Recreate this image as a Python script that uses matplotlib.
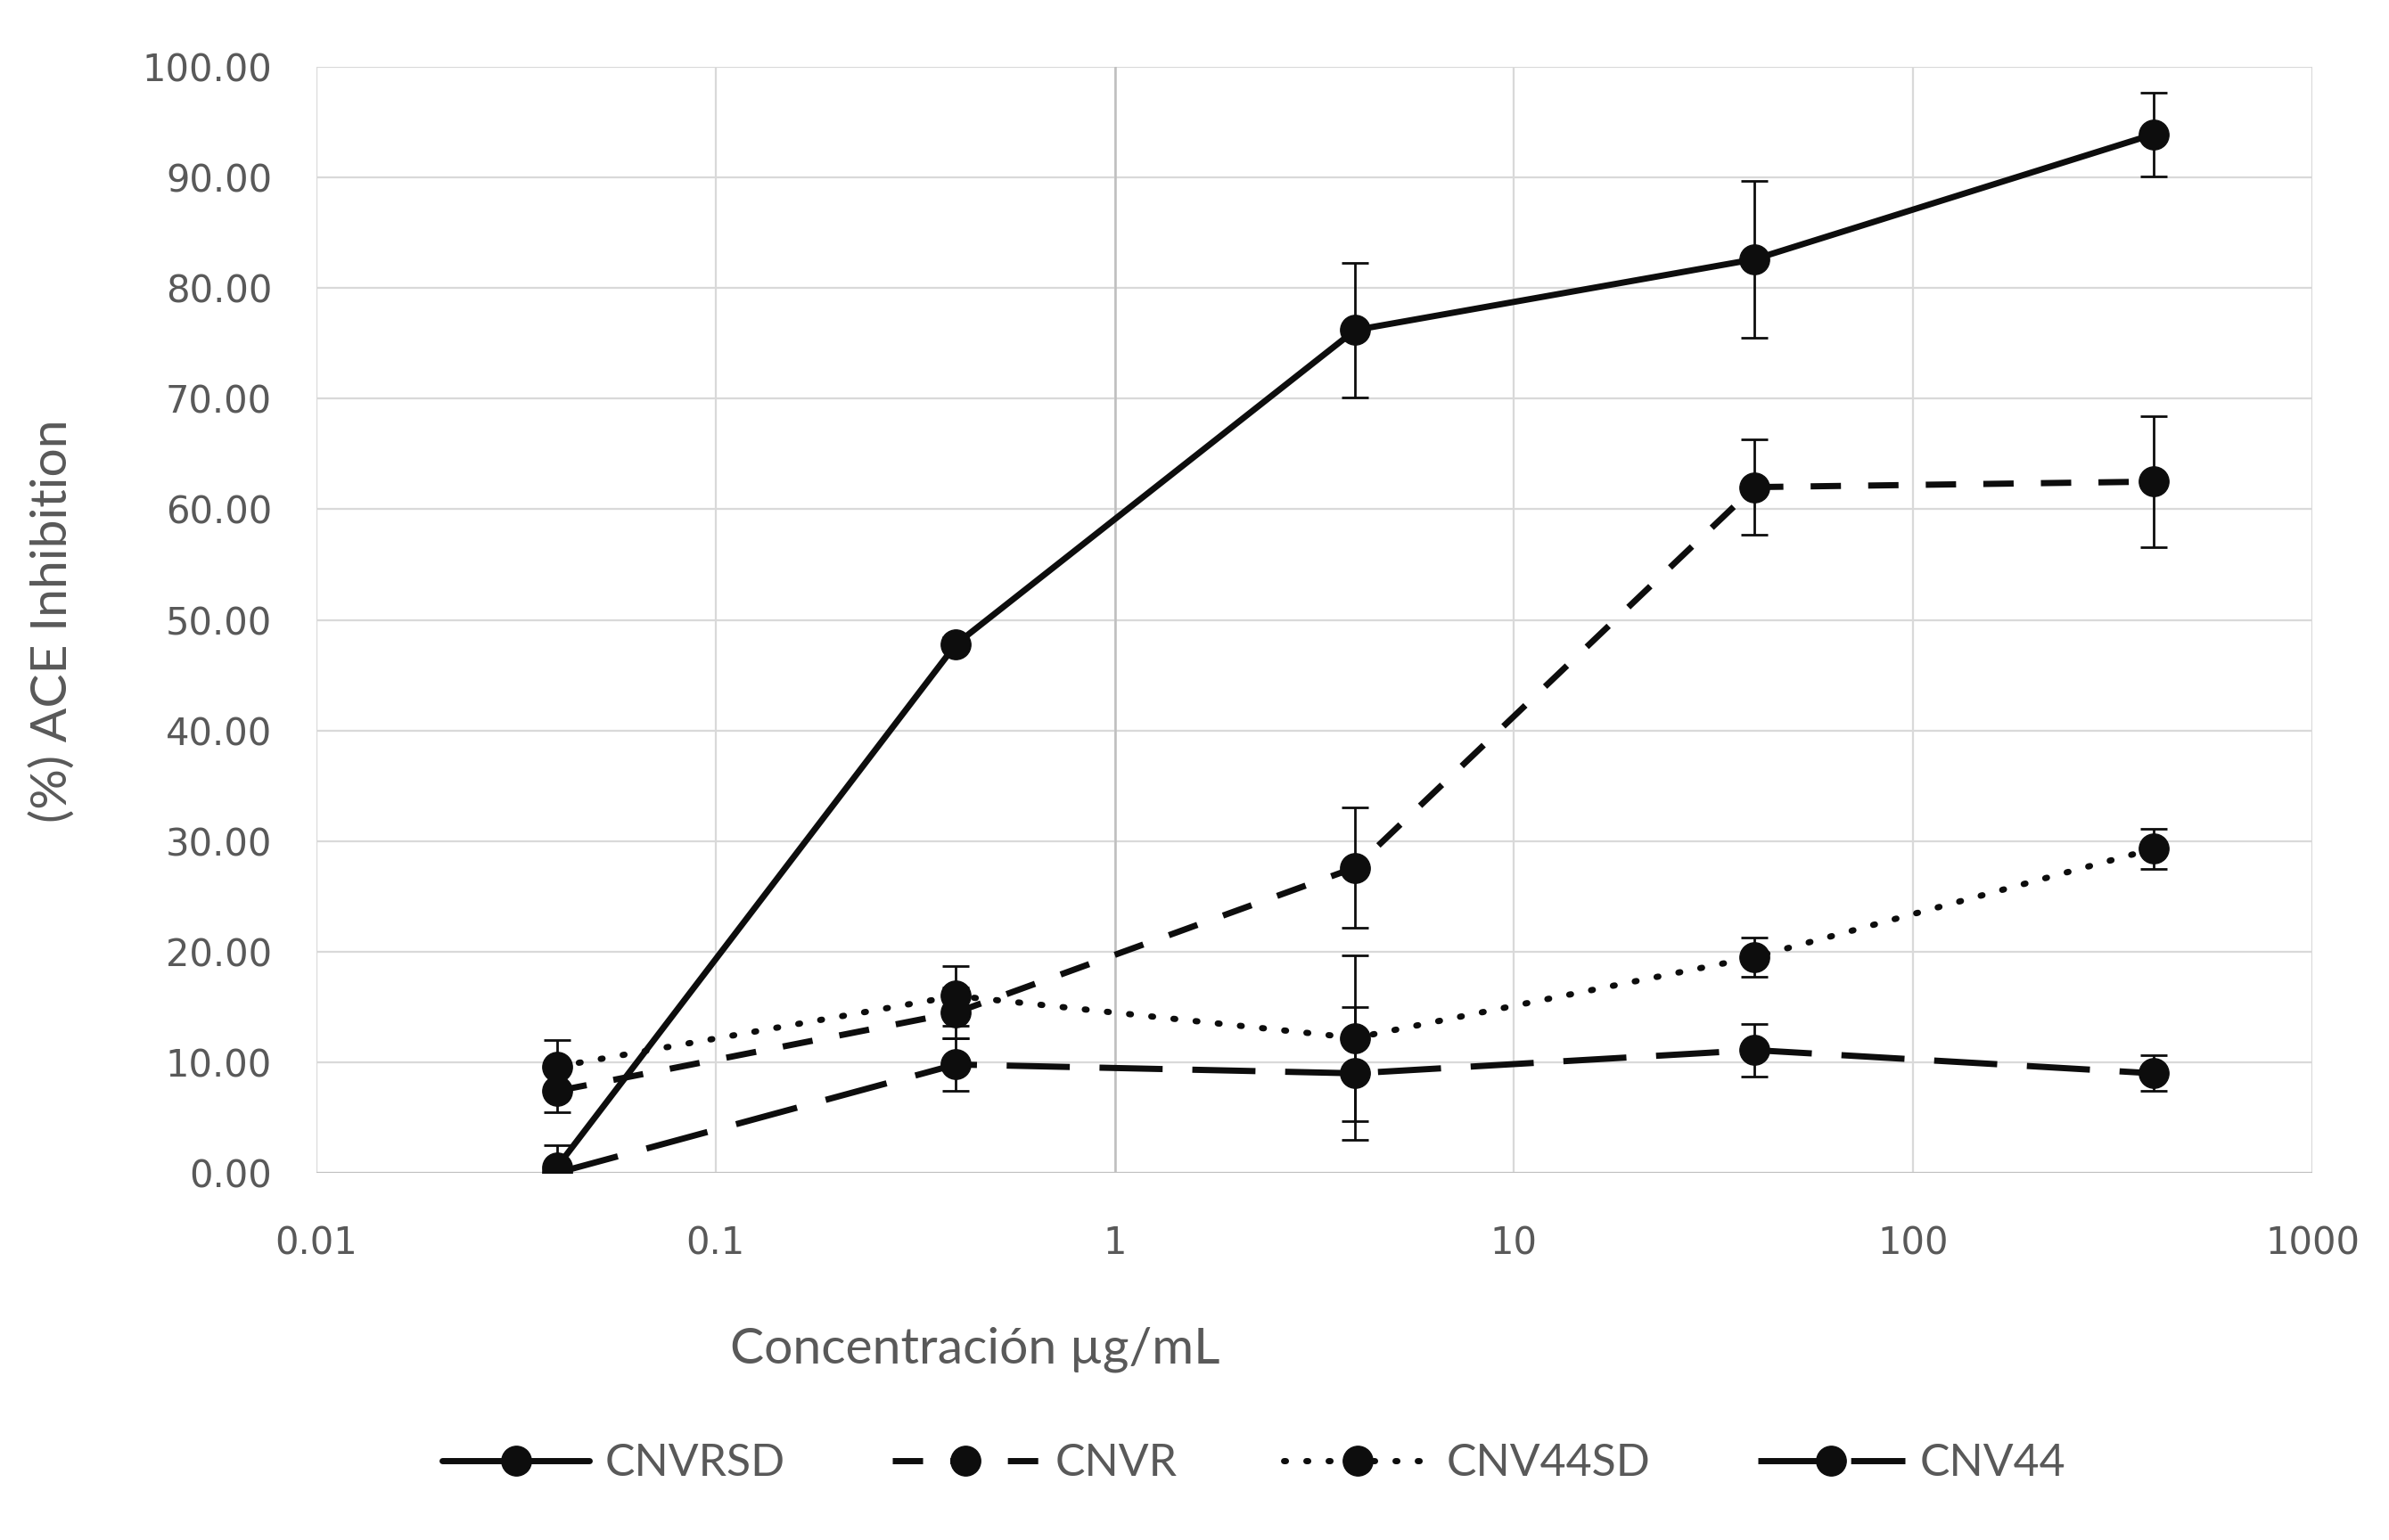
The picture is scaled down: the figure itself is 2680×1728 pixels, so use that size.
import numpy as np
import matplotlib
matplotlib.use("Agg")
import matplotlib.pyplot as plt
from matplotlib.ticker import FixedLocator, FixedFormatter, FormatStrFormatter, NullLocator

# concentraciones (µg/mL)
conc = [0.04, 0.4, 4, 40, 400]

# % inhibición ACE y desviaciones
cnvrsd = [0.5, 47.8, 76.2, 82.6, 93.9]
cnvrsd_err = [2.0, 0.6, 6.1, 7.1, 3.8]

cnvr = [7.4, 14.5, 27.6, 62.0, 62.5]
cnvr_err = [1.9, 2.3, 5.4, 4.3, 5.9]

cnv44sd = [9.6, 16.0, 12.2, 19.5, 29.3]
cnv44sd_err = [2.4, 2.7, 7.5, 1.75, 1.8]

cnv44 = [0.0, 9.8, 9.0, 11.1, 9.0]
cnv44_err = [0.3, 2.4, 6.0, 2.4, 1.6]

names = ["CNVRSD", "CNVR", "CNV44SD", "CNV44"]
x_ticks = [0.01, 0.1, 1, 10, 100, 1000]
x_labels = ["0.01", "0.1", "1", "10", "100", "1000"]
y_ticks = list(range(0, 101, 10))

gris = "#595959"
negro = "#0D0D0D"

fig = plt.figure(figsize=(26.8, 17.28), dpi=100)
ax = fig.add_axes([0.1325, 0.2384, 0.8354, 0.7182])

ax.set_xscale("log")
ax.set_xlim(0.01, 1000)
ax.set_ylim(0, 100)

# rejilla
for yv in y_ticks:
    ax.axhline(yv, color="#D9D9D9", lw=1.6, zorder=0)
for xv in x_ticks:
    ax.axvline(xv, color="#D9D9D9", lw=1.6, zorder=0)
ax.axvline(1, color="#BFBFBF", lw=1.8, zorder=0.5)
ax.axhline(0, color="#BFBFBF", lw=2.2, zorder=0.5)

for s in ax.spines.values():
    s.set_visible(False)

# estilo de línea: (patrón, capstyle)
series = [
    (cnvrsd, cnvrsd_err, None, "round"),
    (cnvr, cnvr_err, (4.9, 4.4), "butt"),
    (cnv44sd, cnv44sd_err, (0.3, 3.3), "round"),
    (cnv44, cnv44_err, (10.2, 4.8), "butt"),
]

handles = []
for (vals, err, dashes, cap), name in zip(series, names):
    ax.errorbar(conc, vals, yerr=err, fmt="none", ecolor=negro, elinewidth=2.0,
                capsize=11, capthick=2.0, zorder=3)
    line, = ax.plot(conc, vals, color=negro, lw=5.0, marker="o", markersize=24,
                    markerfacecolor=negro, markeredgecolor=negro, label=name,
                    zorder=4, solid_capstyle="round")
    if dashes is not None:
        line.set_dashes(dashes)
        line.set_dash_capstyle(cap)
    handles.append(line)

ax.xaxis.set_major_locator(FixedLocator(x_ticks))
ax.xaxis.set_major_formatter(FixedFormatter(x_labels))
ax.xaxis.set_minor_locator(NullLocator())
ax.yaxis.set_major_locator(FixedLocator(y_ticks))
ax.yaxis.set_major_formatter(FormatStrFormatter("%.2f"))
ax.tick_params(axis="both", length=0, labelsize=30, labelcolor=gris)
ax.tick_params(axis="x", pad=42)
ax.tick_params(axis="y", pad=36)

ax.set_xlabel("Concentración µg/mL", fontsize=41, color=gris, family="Lato")
ax.xaxis.set_label_coords(0.33, -0.139)
ax.set_ylabel("(%) ACE Inhibition", fontsize=41, color=gris, family="Lato")
ax.yaxis.set_label_coords(-0.1206, 0.499)

leg = fig.legend(handles=handles, loc="center", bbox_to_anchor=(0.525, 1 - 1642 / 1728),
                 ncol=4, frameon=False, handlelength=3.3, handletextpad=0.35,
                 columnspacing=2.4, prop={"family": "Lato", "size": 36})
for t in leg.get_texts():
    t.set_color(gris)

fig.savefig("out.png", dpi=100, facecolor="white")
